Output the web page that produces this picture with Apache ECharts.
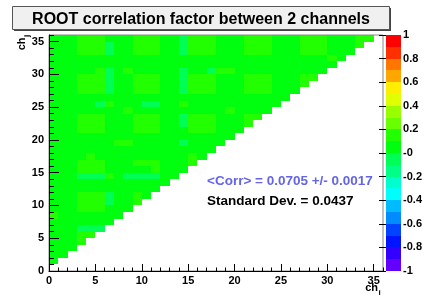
<!DOCTYPE html>
<html>
<head>
<meta charset="utf-8">
<title>ROOT correlation factor between 2 channels</title>
<script src="https://cdn.jsdelivr.net/npm/echarts@6/dist/echarts.min.js"></script>
<style>
  html, body { margin: 0; padding: 0; background: #fff; }
  #chart { width: 425px; height: 297px; }
</style>
</head>
<body>
<div id="chart"></div>
<script>
// corr[j][i] : correlation factor between ch_i and ch_j, only i < j is filled
var corr = [
  [],
  [0.06],
  [0.06, 0.06],
  [0.06, 0.06, 0.06],
  [0.06, 0.06, 0.06, 0.13],
  [0.06, 0.06, 0.06, 0.13, 0.13],
  [0.06, 0.06, 0.06, -0.03, -0.03, -0.03],
  [0.06, 0.06, 0.06, 0.06, 0.06, 0.06, 0.06],
  [0.13, 0.06, 0.06, 0.06, 0.06, 0.06, 0.06, 0.06],
  [0.06, 0.06, 0.06, 0.13, 0.13, 0.13, 0.06, 0.06, 0.06],
  [0.06, 0.06, 0.06, 0.13, 0.13, 0.13, -0.03, 0.06, 0.06, 0.13],
  [0.06, 0.06, 0.06, 0.13, 0.13, 0.13, -0.03, 0.06, 0.06, 0.13, 0.06],
  [0.06, 0.06, 0.06, 0.06, 0.06, 0.06, 0.06, 0.06, 0.06, 0.06, 0.06, 0.06],
  [0.06, 0.06, 0.06, 0.06, 0.06, 0.06, 0.06, 0.06, 0.06, 0.06, 0.06, 0.06, 0.06],
  [0.06, 0.06, 0.06, -0.03, -0.03, -0.03, 0.13, 0.06, -0.03, -0.03, -0.03, -0.03, 0.06, 0.06],
  [0.06, 0.06, 0.06, 0.13, 0.13, 0.13, 0.06, 0.06, 0.06, 0.06, 0.06, 0.13, 0.06, 0.06, 0.06],
  [0.06, 0.06, 0.06, 0.13, 0.13, 0.13, 0.06, 0.06, 0.06, 0.13, 0.13, 0.13, 0.06, 0.06, 0.06, 0.13],
  [0.06, 0.06, 0.06, 0.06, 0.13, 0.06, 0.06, 0.06, 0.06, 0.06, 0.06, 0.06, 0.06, 0.06, 0.06, 0.13, 0.06],
  [0.06, 0.06, 0.06, 0.06, 0.06, 0.06, 0.06, 0.06, 0.06, 0.06, 0.06, 0.06, 0.06, 0.06, 0.06, 0.06, 0.06, 0.06],
  [0.06, 0.06, 0.06, 0.06, 0.06, 0.06, 0.06, 0.13, 0.13, 0.06, 0.06, 0.06, 0.06, 0.06, -0.03, 0.06, 0.06, 0.06, 0.06],
  [0.06, 0.06, 0.06, 0.06, 0.06, 0.06, 0.06, 0.06, 0.06, 0.06, 0.06, 0.06, 0.06, 0.06, 0.06, 0.06, 0.06, 0.06, 0.06, 0.06],
  [0.06, 0.06, 0.06, 0.13, 0.13, 0.13, 0.06, 0.06, 0.06, 0.13, 0.13, 0.13, 0.06, 0.06, 0.06, 0.13, 0.13, 0.13, 0.06, 0.06, 0.06],
  [0.06, 0.06, 0.06, 0.13, 0.13, 0.13, 0.06, 0.06, 0.06, 0.13, 0.13, 0.13, 0.06, 0.06, -0.03, 0.13, 0.13, 0.13, 0.06, 0.06, 0.06, 0.13],
  [0.06, 0.06, 0.06, 0.13, 0.13, 0.13, 0.06, 0.06, 0.06, 0.13, 0.13, 0.13, 0.06, 0.06, -0.03, 0.13, 0.13, 0.13, 0.06, 0.06, 0.06, 0.13, 0.13],
  [0.06, 0.06, 0.06, 0.06, 0.06, 0.06, 0.06, 0.06, 0.13, 0.06, 0.06, 0.06, 0.06, 0.06, 0.06, 0.06, 0.06, 0.06, 0.06, 0.13, 0.06, 0.06, 0.06, 0.06],
  [0.06, 0.06, 0.06, 0.06, 0.06, -0.03, 0.13, 0.06, 0.06, 0.06, -0.03, -0.03, 0.06, 0.06, 0.13, 0.06, 0.06, 0.06, 0.06, 0.06, 0.06, 0.06, 0.06, 0.06, 0.06],
  [0.06, 0.06, 0.06, 0.06, 0.06, 0.06, 0.06, 0.06, 0.06, 0.06, 0.06, 0.06, 0.06, 0.06, 0.06, 0.06, 0.06, 0.06, 0.06, 0.06, 0.06, 0.06, 0.06, 0.06, 0.06, 0.06],
  [0.06, 0.06, 0.06, 0.13, 0.13, 0.13, -0.03, 0.06, 0.06, 0.13, 0.13, 0.13, 0.06, 0.06, -0.03, 0.13, 0.13, 0.13, 0.06, 0.06, 0.06, 0.13, 0.13, 0.13, 0.06, 0.06, 0.06],
  [0.06, 0.06, 0.06, 0.13, 0.13, 0.13, -0.03, 0.06, 0.06, 0.13, 0.13, 0.13, 0.06, 0.06, -0.03, 0.13, 0.13, 0.13, 0.06, 0.06, 0.06, 0.13, 0.13, 0.13, 0.06, 0.06, 0.06, 0.13],
  [0.06, 0.06, 0.06, 0.13, 0.13, 0.13, -0.03, 0.06, 0.06, 0.13, 0.13, 0.13, 0.06, 0.06, -0.03, 0.13, 0.13, 0.13, 0.06, 0.06, 0.06, 0.13, 0.13, 0.13, 0.06, 0.06, 0.06, 0.13, 0.13],
  [0.06, 0.06, 0.06, 0.06, 0.06, 0.13, -0.03, 0.06, 0.13, 0.06, 0.06, 0.06, 0.06, 0.06, -0.03, 0.06, 0.06, -0.03, 0.13, 0.13, 0.06, 0.06, 0.06, 0.06, 0.06, 0.06, 0.06, 0.06, 0.06, 0.06],
  [0.06, 0.06, 0.06, 0.06, 0.06, 0.06, 0.06, 0.06, 0.06, 0.06, 0.06, 0.06, 0.06, 0.06, 0.06, 0.06, 0.06, 0.06, 0.06, 0.06, 0.06, 0.06, 0.06, 0.06, 0.06, 0.06, 0.06, 0.06, 0.06, 0.06, 0.06],
  [0.06, 0.06, 0.06, 0.06, 0.06, 0.06, 0.06, 0.06, 0.06, 0.06, 0.06, 0.06, 0.06, 0.06, 0.06, 0.06, 0.06, 0.06, 0.06, 0.06, 0.06, 0.06, 0.06, 0.06, 0.06, 0.06, 0.06, 0.06, 0.06, 0.06, 0.13, 0.06],
  [0.06, 0.06, 0.06, 0.13, 0.13, 0.13, -0.03, 0.06, 0.06, 0.13, 0.13, 0.13, 0.06, 0.06, -0.03, 0.13, 0.13, 0.13, 0.06, 0.06, 0.06, 0.13, 0.13, 0.13, 0.06, 0.06, 0.06, 0.13, 0.13, 0.13, 0.06, 0.06, 0.06],
  [0.06, 0.06, 0.06, 0.13, 0.13, 0.13, -0.03, 0.06, 0.06, 0.13, 0.13, 0.13, 0.06, 0.06, -0.03, 0.13, 0.13, 0.13, 0.06, 0.06, 0.06, 0.13, 0.13, 0.13, 0.06, 0.06, 0.06, 0.13, 0.13, 0.13, 0.06, 0.06, 0.06, 0.13],
  [0.06, 0.06, 0.06, 0.13, 0.13, 0.13, 0.06, 0.06, 0.06, 0.13, 0.13, 0.13, 0.06, 0.06, -0.03, 0.13, 0.13, 0.13, 0.06, 0.06, 0.06, 0.13, 0.13, 0.13, 0.06, 0.06, 0.06, 0.13, 0.13, 0.13, 0.06, 0.06, 0.06, 0.13, 0.13]
];

// contour levels of the colour palette (20 bands)
var levels = [-1, -0.9, -0.8, -0.7, -0.6, -0.5, -0.4, -0.3, -0.2, -0.1, 0,
              0.1, 0.2, 0.3, 0.4, 0.5, 0.6, 0.7, 0.8, 0.9, 1];
// ROOT "pretty" palette colours picked for 20 contours
var palette = ['#6300ff', '#3300ff', '#0014ff', '#0044ff', '#008bff', '#00bbff', '#00fffb', '#00ffcc', '#00ff85', '#00ff55',
               '#00ff0e', '#22ff00', '#69ff00', '#99ff00', '#e0ff00', '#ffee00', '#ffa700', '#ff7700', '#ff3000', '#ff0000'];

var corrText = '<Corr> = 0.0705 +/- 0.0017';
var sdText = 'Standard Dev. = 0.0437';

var FONT = 'Liberation Sans, Arial, Helvetica, sans-serif';

var cells = [];
for (var j = 0; j < corr.length; j++) {
  for (var i = 0; i < corr[j].length; i++) {
    cells.push([i, j, corr[j][i]]);
  }
}

var pieces = [];
var bands = [];
for (var k = 0; k < palette.length; k++) {
  pieces.push({ gte: levels[k], lt: levels[k + 1], color: palette[k] });
  bands.push([levels[k], levels[k + 1], k]);
}
pieces[pieces.length - 1] = { gte: levels[19], lte: levels[20], color: palette[19] };

function renderCell(params, api) {
  var a = api.coord([api.value(0), api.value(1) + 1]);
  var b = api.coord([api.value(0) + 1, api.value(1)]);
  var x0 = Math.round(a[0]), y0 = Math.round(a[1]);
  return {
    type: 'rect',
    shape: { x: x0, y: y0, width: Math.round(b[0]) - x0, height: Math.round(b[1]) - y0 },
    style: { fill: api.visual('color') }
  };
}

function renderBand(params, api) {
  var a = api.coord([0, api.value(1)]);
  var b = api.coord([1, api.value(0)]);
  var x0 = Math.round(a[0]), y0 = Math.round(a[1]);
  return {
    type: 'rect',
    shape: { x: x0, y: y0, width: Math.round(b[0]) - x0, height: Math.round(b[1]) - y0 },
    style: { fill: palette[api.value(2)] }
  };
}

var labelStyle = { color: '#000', fontFamily: FONT, fontWeight: 'bold', fontSize: 11 };

var chart = echarts.init(document.getElementById('chart'));
chart.setOption({
  backgroundColor: '#fff',
  animation: false,
  grid: [
    { left: 49, top: 35, width: 334, height: 236, show: true, borderColor: '#888', borderWidth: 1, z: 5 },
    { left: 386, top: 35, width: 19, height: 236 }
  ],
  xAxis: [
    { type: 'value', gridIndex: 0, min: 0, max: 36, interval: 5, z: 6,
      axisLine: { show: true, lineStyle: { color: '#000', width: 1 } },
      axisTick: { show: true, inside: true, length: 7, lineStyle: { color: '#000' } },
      axisLabel: Object.assign({ margin: 4, showMaxLabel: false }, labelStyle),
      splitLine: { show: false } },
    { type: 'value', gridIndex: 0, min: 0, max: 36, interval: 1, position: 'bottom', z: 6,
      axisLine: { show: false },
      axisTick: { show: true, inside: true, length: 3.5, lineStyle: { color: '#000' } },
      axisLabel: { show: false }, splitLine: { show: false } },
    { type: 'value', gridIndex: 1, min: 0, max: 1, show: false }
  ],
  yAxis: [
    { type: 'value', gridIndex: 0, min: 0, max: 36, interval: 5, z: 6,
      axisLine: { show: true, lineStyle: { color: '#000', width: 1 } },
      axisTick: { show: true, inside: true, length: 10, lineStyle: { color: '#000' } },
      axisLabel: Object.assign({ margin: 5, showMaxLabel: false }, labelStyle),
      splitLine: { show: false } },
    { type: 'value', gridIndex: 0, min: 0, max: 36, interval: 1, position: 'left', z: 6,
      axisLine: { show: false },
      axisTick: { show: true, inside: true, length: 5, lineStyle: { color: '#000' } },
      axisLabel: { show: false }, splitLine: { show: false } },
    { type: 'value', gridIndex: 1, min: -1, max: 1, interval: 0.2, position: 'right', z: 6,
      axisLine: { show: false },
      axisTick: { show: true, inside: true, length: 7, lineStyle: { color: '#000' } },
      axisLabel: Object.assign({
        margin: 2,
        formatter: function (v) {
          if (Math.abs(v) < 1e-9) return '-0';
          return String(Number(v.toFixed(1)));
        }
      }, labelStyle),
      splitLine: { show: false } }
  ],
  visualMap: {
    type: 'piecewise',
    show: false,
    dimension: 2,
    seriesIndex: 0,
    pieces: pieces
  },
  series: [
    { type: 'custom', xAxisIndex: 0, yAxisIndex: 0, data: cells,
      encode: { x: 0, y: 1 }, renderItem: renderCell, z: 2 },
    { type: 'custom', xAxisIndex: 2, yAxisIndex: 2, data: bands,
      encode: { y: [0, 1] }, renderItem: renderBand, z: 2 }
  ],
  graphic: [
    // title box
    { type: 'rect', shape: { x: 14, y: 8, width: 377, height: 23 }, style: { fill: '#444' }, z: 10 },
    { type: 'rect', shape: { x: 12.5, y: 6.5, width: 377, height: 23 },
      style: { fill: '#f0f0f0', stroke: '#555', lineWidth: 1 }, z: 11 },
    { type: 'text', x: 201, y: 19.5, z: 12,
      style: { text: 'ROOT correlation factor between 2 channels', fill: '#000',
        font: 'bold 16px ' + FONT, align: 'center', verticalAlign: 'middle' } },
    // statistics
    { type: 'text', x: 207, y: 181.5, z: 12,
      style: { text: corrText, fill: '#6464e6', font: 'bold 13.5px ' + FONT, align: 'left', verticalAlign: 'middle' } },
    { type: 'text', x: 207, y: 201.5, z: 12,
      style: { text: sdText, fill: '#000', font: 'bold 13.5px ' + FONT, align: 'left', verticalAlign: 'middle' } },
    // axis titles
    { type: 'text', x: 378, y: 288, z: 12,
      style: { text: 'ch', fill: '#000', font: 'bold 11px ' + FONT, align: 'right', verticalAlign: 'middle' } },
    { type: 'text', x: 378.5, y: 293, z: 12,
      style: { text: 'i', fill: '#000', font: 'bold 8px ' + FONT, align: 'left', verticalAlign: 'middle' } },
    { type: 'text', x: 21.5, y: 37.5, rotation: Math.PI / 2, z: 12,
      style: { text: 'ch', fill: '#000', font: 'bold 11px ' + FONT, align: 'right', verticalAlign: 'middle' } },
    { type: 'text', x: 27, y: 37, rotation: Math.PI / 2, z: 12,
      style: { text: 'j', fill: '#000', font: 'bold 8px ' + FONT, align: 'left', verticalAlign: 'middle' } }
  ]
});
</script>
</body>
</html>
